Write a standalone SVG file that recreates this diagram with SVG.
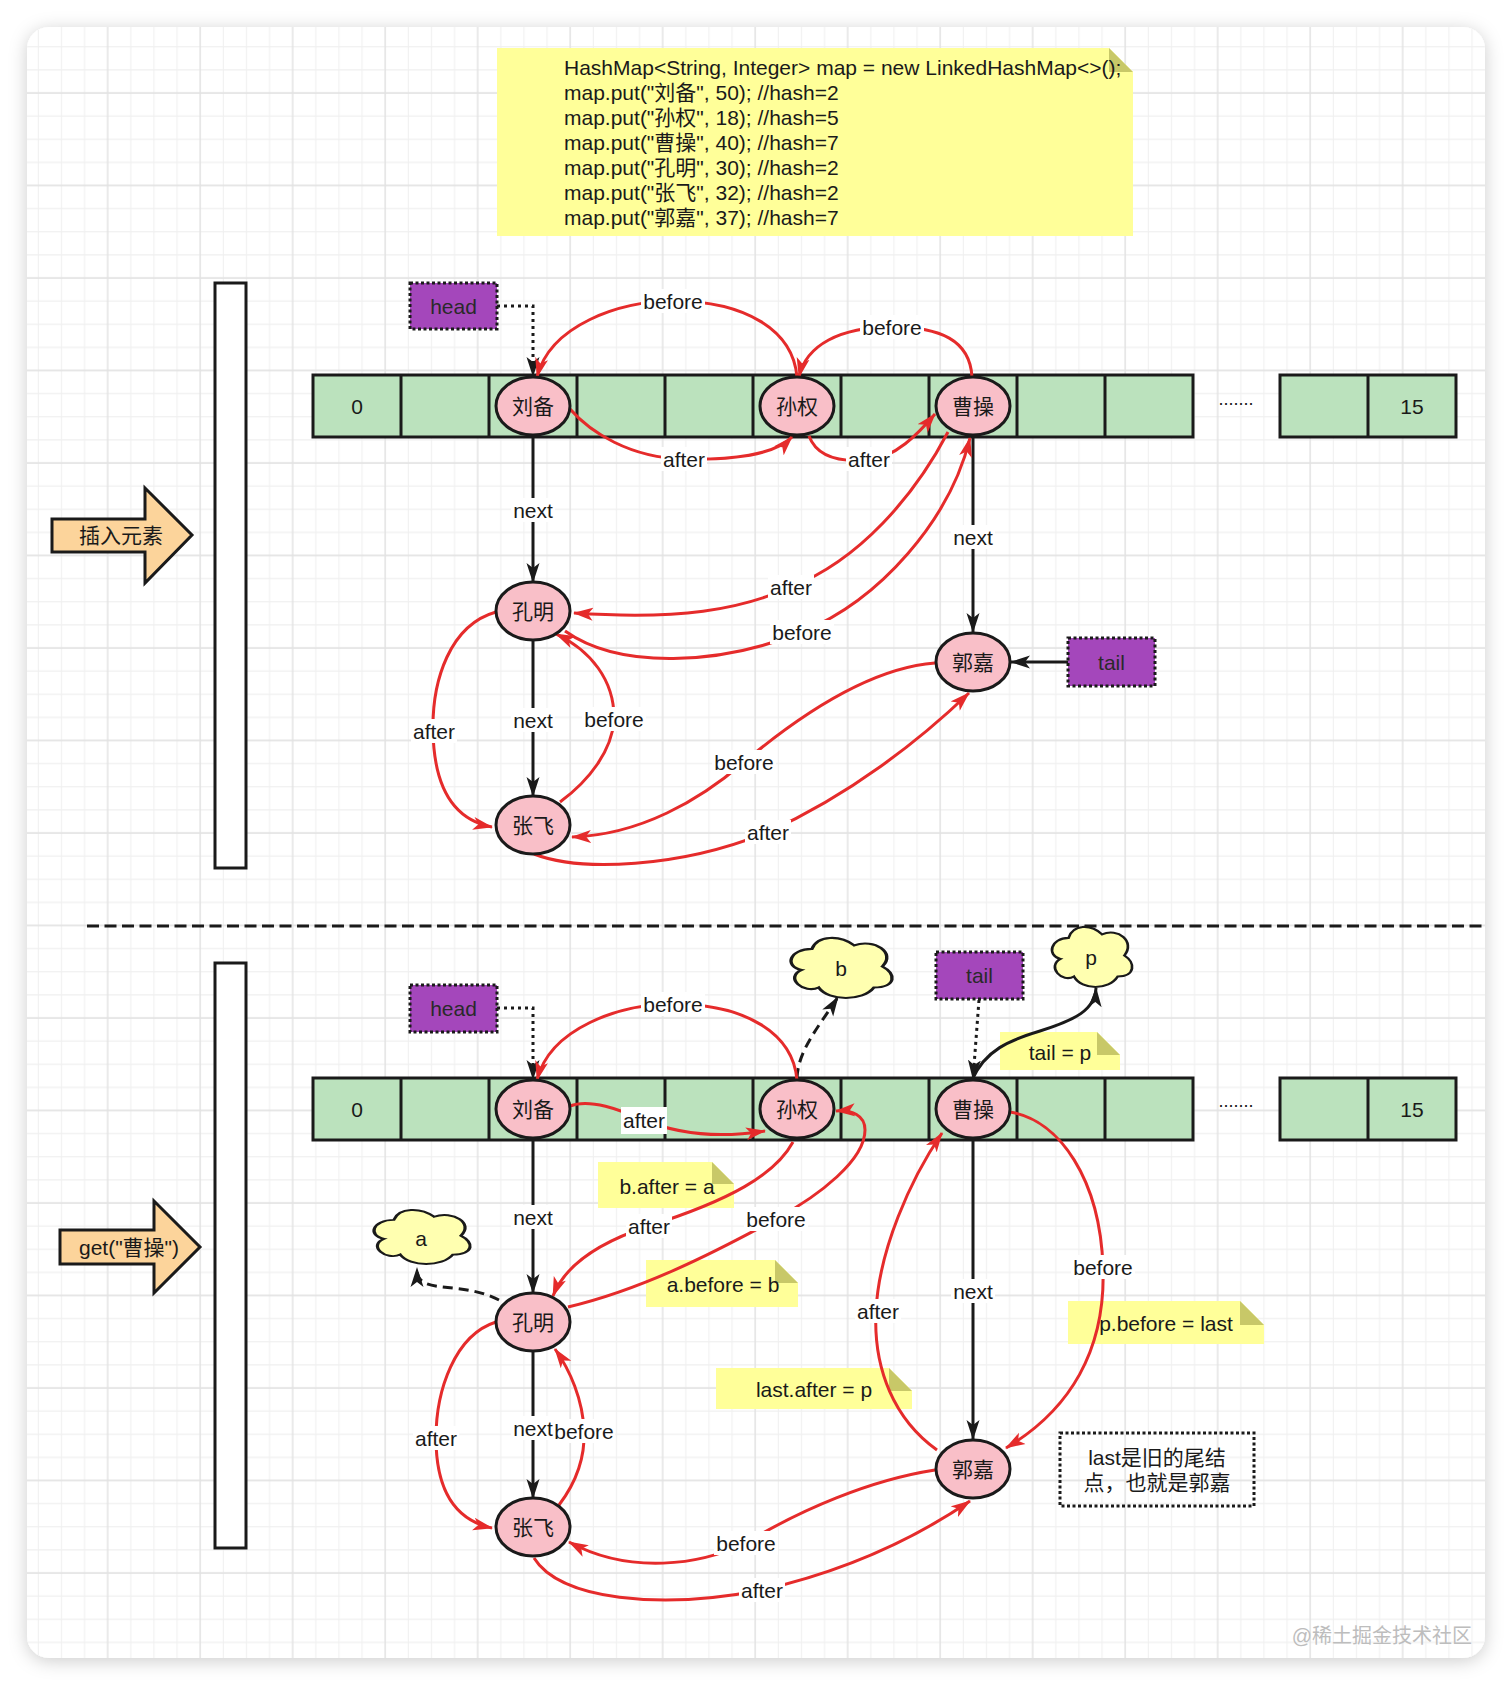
<svg xmlns="http://www.w3.org/2000/svg" width="1512" height="1686" viewBox="0 0 1512 1686">
<style>
text{font-family:'Liberation Sans','Noto Sans CJK SC',sans-serif;font-size:21px;fill:#1a1a1a;dominant-baseline:central;text-anchor:middle}
.cell{fill:#bbe2bd;stroke:#1a1a1a;stroke-width:3}
.div{stroke:#1a1a1a;stroke-width:3}
.node{fill:#f9bfc8;stroke:#1a1a1a;stroke-width:3}
.ptr{fill:#a447bb;stroke:#1a1a1a;stroke-width:3;stroke-dasharray:3 2.5}
.ptr-t{fill:#2a2a2a}
.note{fill:#ffff99}
.fold{fill:#c8c868}
.cloud{fill:#ffffb0;stroke:#1a1a1a;stroke-width:3;vector-effect:non-scaling-stroke}
.blk{fill:#fcd49b;stroke:#1a1a1a;stroke-width:3;stroke-linejoin:miter}
.bar{fill:#ffffff;stroke:#1a1a1a;stroke-width:3}
.red{fill:none;stroke:#e52b2b;stroke-width:3;marker-end:url(#mr)}
.blkline{fill:none;stroke:#1a1a1a;stroke-width:3;marker-end:url(#mk)}
.dot{fill:none;stroke:#1a1a1a;stroke-width:3;stroke-dasharray:3 4;marker-end:url(#mk)}
.dash{fill:none;stroke:#1a1a1a;stroke-width:3;stroke-dasharray:10 6;marker-end:url(#mk)}
.lbl rect{fill:#ffffff}
.code{text-anchor:start}
</style>
<defs>
<pattern id="grid" x="49.89" y="35.19" width="92.5" height="92.5" patternUnits="userSpaceOnUse">
<path d="M11.5625,0V92.5M34.6875,0V92.5M80.9375,0V92.5M0,11.5625H92.5M0,34.6875H92.5M0,80.9375H92.5" stroke="#f0f0f0" stroke-width="1.1"/>
<path d="M57.8125,0V92.5M0,57.8125H92.5" stroke="#e3e3e3" stroke-width="1.5"/>
</pattern>
<filter id="shadow" x="-5%" y="-5%" width="110%" height="110%">
<feDropShadow dx="0" dy="3" stdDeviation="9" flood-color="#000" flood-opacity="0.2"/>
</filter>
<marker id="mr" viewBox="0 0 20 14" markerWidth="20" markerHeight="14" refX="19" refY="7" orient="auto" markerUnits="userSpaceOnUse"><path d="M0,0.5L20,7L0,13.5L5,7Z" fill="#e52b2b"/></marker>
<marker id="mk" viewBox="0 0 20 14" markerWidth="20" markerHeight="14" refX="19" refY="7" orient="auto" markerUnits="userSpaceOnUse"><path d="M0,0.5L20,7L0,13.5L5,7Z" fill="#1a1a1a"/></marker>
<path id="cloudShape" d="M25,25C5,25 0,50 16,55C0,66 18,90 31,80C40,100 70,100 80,80C100,80 100,60 87.5,50C100,30 80,10 62.5,20C50,5 30,5 25,25Z"/>
</defs>

<rect width="1512" height="1686" fill="#ffffff"/>
<g id="card">
<rect x="27" y="27" width="1458" height="1631" rx="22" fill="#ffffff" filter="url(#shadow)"/>
<rect x="27" y="27" width="1458" height="1631" rx="22" fill="url(#grid)"/>
</g>

<g id="separator"><line x1="87" y1="926" x2="1485" y2="926" stroke="#1a1a1a" stroke-width="3" stroke-dasharray="12 5.5"/></g>

<g id="code-note">
<path class="note" d="M497,48H1109L1133,72V236H497Z"/>
<path class="fold" d="M1109,48V72H1133Z"/>
<text class="code" x="564" y="67">HashMap&lt;String, Integer&gt; map = new LinkedHashMap&lt;&gt;();</text>
<text class="code" x="564" y="92">map.put("刘备", 50); //hash=2</text>
<text class="code" x="564" y="117">map.put("孙权", 18); //hash=5</text>
<text class="code" x="564" y="142">map.put("曹操", 40); //hash=7</text>
<text class="code" x="564" y="167">map.put("孔明", 30); //hash=2</text>
<text class="code" x="564" y="192">map.put("张飞", 32); //hash=2</text>
<text class="code" x="564" y="217">map.put("郭嘉", 37); //hash=7</text>
</g>

<g id="bar-top"><rect class="bar" x="215" y="283" width="31" height="585"/></g>
<g id="bar-bottom"><rect class="bar" x="215" y="963" width="31" height="585"/></g>
<g id="arrow-insert"><polygon class="blk" points="52,519 145,519 145,488 192,535 145,583 145,552 52,552"/><text x="121" y="535">插入元素</text></g>
<g id="arrow-get"><polygon class="blk" points="60,1230 154,1230 154,1201 200,1247 154,1293 154,1264 60,1264"/><text x="129" y="1247">get("曹操")</text></g>

<g id="note-b-after"><path class="note" d="M598,1162H712L734,1184V1208H598Z"/><path class="fold" d="M712,1162V1184H734Z"/><text x="667" y="1186">b.after = a</text></g>
<g id="note-a-before"><path class="note" d="M646,1260H775L798,1283V1307H646Z"/><path class="fold" d="M775,1260V1283H798Z"/><text x="723" y="1284">a.before = b</text></g>
<g id="note-last-after"><path class="note" d="M716,1368H889L912,1391V1409H716Z"/><path class="fold" d="M889,1368V1391H912Z"/><text x="814" y="1389">last.after = p</text></g>
<g id="note-p-before"><path class="note" d="M1068,1301H1240L1264,1325V1344H1068Z"/><path class="fold" d="M1240,1301V1325H1264Z"/><text x="1166" y="1323">p.before = last</text></g>
<g id="note-tail-p"><path class="note" d="M1000,1032H1097L1120,1055V1070H1000Z"/><path class="fold" d="M1097,1032V1055H1120Z"/><text x="1060" y="1052">tail = p</text></g>

<g id="comment-last">
<rect x="1060" y="1433" width="194" height="73" fill="none" stroke="#1a1a1a" stroke-width="3" stroke-dasharray="3 2.5"/>
<text x="1157" y="1457">last是旧的尾结</text>
<text x="1157" y="1482">点，也就是郭嘉</text>
</g>

<g id="array-top">
<rect class="cell" x="313" y="375" width="880" height="62"/>
<path class="div" d="M401,375V437M489,375V437M577,375V437M665,375V437M753,375V437M841,375V437M929,375V437M1017,375V437M1105,375V437"/>
<rect class="cell" x="1280" y="375" width="176" height="62"/>
<path class="div" d="M1368,375V437"/>
<text x="357" y="406">0</text>
<text x="1412" y="406">15</text>
<text x="1236" y="405" style="font-size:18px;dominant-baseline:auto">.......</text>
</g>
<g id="array-bottom">
<rect class="cell" x="313" y="1078" width="880" height="62"/>
<path class="div" d="M401,1078V1140M489,1078V1140M577,1078V1140M665,1078V1140M753,1078V1140M841,1078V1140M929,1078V1140M1017,1078V1140M1105,1078V1140"/>
<rect class="cell" x="1280" y="1078" width="176" height="62"/>
<path class="div" d="M1368,1078V1140"/>
<text x="357" y="1109">0</text>
<text x="1412" y="1109">15</text>
<text x="1236" y="1107" style="font-size:18px;dominant-baseline:auto">.......</text>
</g>

<g id="connectors">
<!-- top -->
<path class="dot" d="M497,306H533V376"/>
<path class="blkline" d="M533,435V582"/>
<path class="blkline" d="M533,640V796"/>
<path class="blkline" d="M973,437V632"/>
<path class="blkline" d="M1068,662H1011"/>
<path class="red" d="M797,377C793,330 745,301 673,301C620,301 550,325 537,377"/>
<path class="red" d="M972,377C970,340 940,327 892,327C840,327 806,345 799,377"/>
<path class="red" d="M570,409C590,432 630,458 684,459C730,460 775,455 792,437"/>
<path class="red" d="M809,436C818,460 845,462 868,460C895,458 918,434 935,414"/>
<path class="red" d="M948,432C915,495 860,560 791,587C740,610 680,620 574,613"/>
<path class="red" d="M565,631C620,670 720,665 802,632C880,600 950,520 970,438"/>
<path class="red" d="M560,802C590,780 612,750 614,720C615,680 590,650 556,634"/>
<path class="red" d="M496,612C450,625 432,680 433,731C434,790 455,820 492,827"/>
<path class="red" d="M935,663C870,668 800,715 744,762C700,800 640,835 572,837"/>
<path class="red" d="M534,854C580,872 680,868 768,832C850,795 920,740 969,693"/>
<!-- bottom -->
<path class="dot" d="M497,1008H533V1079"/>
<path class="dot" d="M979,1000L973,1079"/>
<path class="blkline" d="M972,1080C985,1050 1010,1040 1040,1031C1075,1020 1095,1010 1096,988"/>
<path class="dash" d="M797,1078C798,1050 820,1025 838,997"/>
<path class="dash" d="M499,1300C470,1285 440,1290 425,1283C419,1280 417,1276 417,1268"/>
<path class="blkline" d="M533,1138V1293"/>
<path class="blkline" d="M533,1351V1498"/>
<path class="blkline" d="M973,1140V1439"/>
<path class="red" d="M797,1080C793,1033 745,1004 673,1004C620,1004 550,1028 537,1080"/>
<path class="red" d="M570,1106C590,1098 620,1110 644,1120C680,1135 720,1138 765,1131"/>
<path class="red" d="M793,1142C775,1175 730,1200 649,1226C600,1242 565,1265 553,1296"/>
<path class="red" d="M568,1307C640,1290 710,1255 776,1219C820,1195 865,1160 865,1130C865,1115 852,1110 836,1111"/>
<path class="red" d="M937,1450C895,1420 873,1370 876,1311C879,1250 910,1180 942,1133"/>
<path class="red" d="M1010,1112C1060,1120 1100,1180 1103,1267C1106,1350 1070,1410 1006,1448"/>
<path class="red" d="M496,1322C455,1335 436,1390 436,1438C436,1490 455,1520 492,1528"/>
<path class="red" d="M559,1505C578,1480 585,1455 584,1431C583,1400 570,1370 555,1349"/>
<path class="red" d="M935,1470C870,1480 800,1510 746,1543C700,1565 630,1575 569,1542"/>
<path class="red" d="M534,1558C560,1600 660,1610 762,1590C850,1570 920,1535 970,1501"/>
</g>

<g id="node-liubei-top"><ellipse class="node" cx="533" cy="406" rx="37" ry="29"/><text x="533" y="406">刘备</text></g>
<g id="node-sunquan-top"><ellipse class="node" cx="797" cy="406" rx="37" ry="29"/><text x="797" y="406">孙权</text></g>
<g id="node-caocao-top"><ellipse class="node" cx="973" cy="406" rx="37" ry="29"/><text x="973" y="406">曹操</text></g>
<g id="node-kongming-top"><ellipse class="node" cx="533" cy="611" rx="37" ry="29"/><text x="533" y="611">孔明</text></g>
<g id="node-zhangfei-top"><ellipse class="node" cx="533" cy="825" rx="37" ry="29"/><text x="533" y="825">张飞</text></g>
<g id="node-guojia-top"><ellipse class="node" cx="973" cy="662" rx="37" ry="29"/><text x="973" y="662">郭嘉</text></g>
<g id="head-top"><rect class="ptr" x="410" y="283" width="87" height="46"/><text class="ptr-t" x="453.5" y="306">head</text></g>
<g id="tail-top"><rect class="ptr" x="1068" y="638" width="87" height="48"/><text class="ptr-t" x="1111.5" y="662">tail</text></g>

<g id="node-liubei-bottom"><ellipse class="node" cx="533" cy="1109" rx="37" ry="29"/><text x="533" y="1109">刘备</text></g>
<g id="node-sunquan-bottom"><ellipse class="node" cx="797" cy="1109" rx="37" ry="29"/><text x="797" y="1109">孙权</text></g>
<g id="node-caocao-bottom"><ellipse class="node" cx="973" cy="1109" rx="37" ry="29"/><text x="973" y="1109">曹操</text></g>
<g id="node-kongming-bottom"><ellipse class="node" cx="533" cy="1322" rx="37" ry="29"/><text x="533" y="1322">孔明</text></g>
<g id="node-zhangfei-bottom"><ellipse class="node" cx="533" cy="1527" rx="37" ry="29"/><text x="533" y="1527">张飞</text></g>
<g id="node-guojia-bottom"><ellipse class="node" cx="973" cy="1469" rx="37" ry="29"/><text x="973" y="1469">郭嘉</text></g>
<g id="head-bottom"><rect class="ptr" x="410" y="985" width="87" height="47"/><text class="ptr-t" x="453.5" y="1008">head</text></g>
<g id="tail-bottom"><rect class="ptr" x="936" y="952" width="87" height="47"/><text class="ptr-t" x="979.5" y="975">tail</text></g>
<g id="cloud-a"><use href="#cloudShape" class="cloud" transform="translate(367,1204.1) scale(1.073,0.631)"/><text x="421" y="1238">a</text></g>
<g id="cloud-b"><use href="#cloudShape" class="cloud" transform="translate(783.7,931.4) scale(1.128,0.701)"/><text x="841" y="968">b</text></g>
<g id="cloud-p"><use href="#cloudShape" class="cloud" transform="translate(1046.2,920.4) scale(0.894,0.701)"/><text x="1091" y="957">p</text></g>

<g id="labels">
<g class="lbl"><rect x="641" y="289" width="64" height="24"/><text x="673" y="301">before</text></g>
<g class="lbl"><rect x="860" y="315" width="64" height="24"/><text x="892" y="327">before</text></g>
<g class="lbl"><rect x="661" y="447" width="46" height="24"/><text x="684" y="459">after</text></g>
<g class="lbl"><rect x="846" y="447" width="46" height="24"/><text x="869" y="459">after</text></g>
<g class="lbl"><rect x="511" y="498" width="44" height="24"/><text x="533" y="510">next</text></g>
<g class="lbl"><rect x="951" y="525" width="44" height="24"/><text x="973" y="537">next</text></g>
<g class="lbl"><rect x="768" y="575" width="46" height="24"/><text x="791" y="587">after</text></g>
<g class="lbl"><rect x="770" y="620" width="64" height="24"/><text x="802" y="632">before</text></g>
<g class="lbl"><rect x="411" y="719" width="46" height="24"/><text x="434" y="731">after</text></g>
<g class="lbl"><rect x="511" y="708" width="44" height="24"/><text x="533" y="720">next</text></g>
<g class="lbl"><rect x="582" y="707" width="64" height="24"/><text x="614" y="719">before</text></g>
<g class="lbl"><rect x="712" y="750" width="64" height="24"/><text x="744" y="762">before</text></g>
<g class="lbl"><rect x="745" y="820" width="46" height="24"/><text x="768" y="832">after</text></g>

<g class="lbl"><rect x="641" y="992" width="64" height="24"/><text x="673" y="1004">before</text></g>
<g class="lbl"><rect x="621" y="1107" width="46" height="27"/><text x="644" y="1120">after</text></g>
<g class="lbl"><rect x="511" y="1205" width="44" height="24"/><text x="533" y="1217">next</text></g>
<g class="lbl"><rect x="626" y="1214" width="46" height="24"/><text x="649" y="1226">after</text></g>
<g class="lbl"><rect x="744" y="1207" width="64" height="24"/><text x="776" y="1219">before</text></g>
<g class="lbl"><rect x="855" y="1299" width="46" height="24"/><text x="878" y="1311">after</text></g>
<g class="lbl"><rect x="951" y="1279" width="44" height="24"/><text x="973" y="1291">next</text></g>
<g class="lbl"><rect x="1071" y="1255" width="64" height="24"/><text x="1103" y="1267">before</text></g>
<g class="lbl"><rect x="413" y="1426" width="46" height="24"/><text x="436" y="1438">after</text></g>
<g class="lbl"><rect x="511" y="1416" width="44" height="24"/><text x="533" y="1428">next</text></g>
<g class="lbl"><rect x="555" y="1419" width="60" height="24"/><text x="584" y="1431">before</text></g>
<g class="lbl"><rect x="714" y="1531" width="64" height="24"/><text x="746" y="1543">before</text></g>
<g class="lbl"><rect x="739" y="1578" width="46" height="24"/><text x="762" y="1590">after</text></g>
</g>

<g id="watermark"><text x="1472" y="1636" style="text-anchor:end;font-size:20px;fill:#bdbdbd">@稀土掘金技术社区</text></g>
</svg>
